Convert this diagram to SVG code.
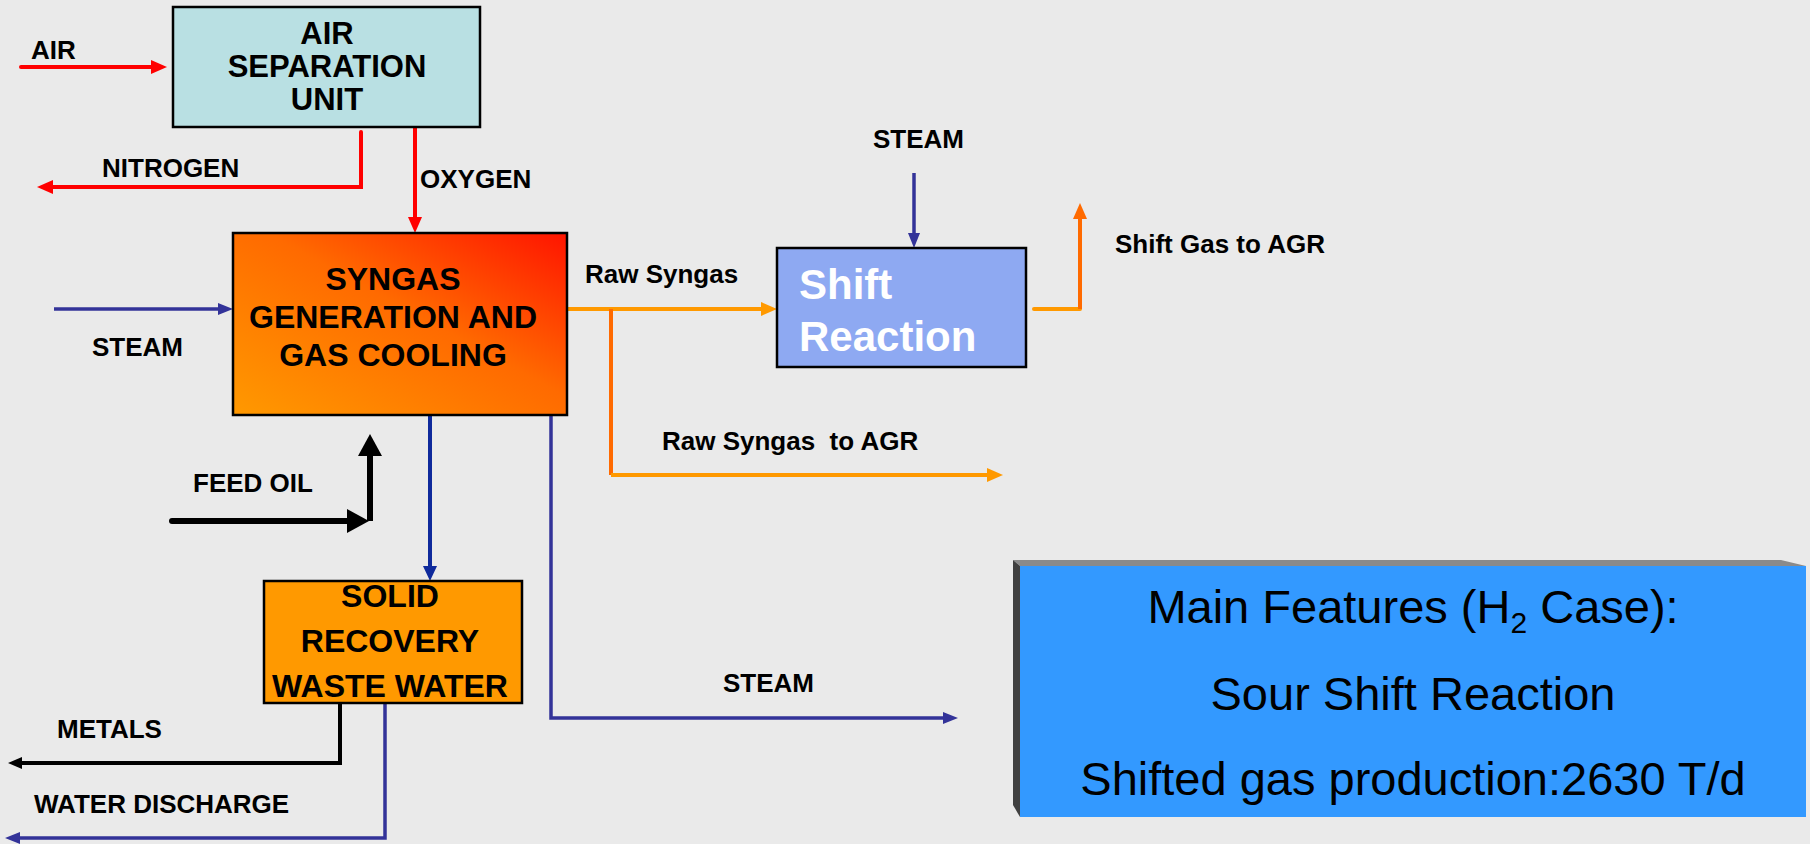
<svg xmlns="http://www.w3.org/2000/svg" width="1810" height="844" viewBox="0 0 1810 844">
<defs>
<style>
.lbl{font-family:"Liberation Sans",Arial,sans-serif;font-weight:bold;font-size:26px;fill:#000;white-space:pre}
.box{font-family:"Liberation Sans",Arial,sans-serif;font-weight:bold;font-size:32px;fill:#000;text-anchor:middle}
.asu{font-size:31px}
.feat{font-family:"Liberation Sans",Arial,sans-serif;font-size:47px;fill:#000;text-anchor:middle}
.red{fill:none;stroke:#ff0000;stroke-width:4}
.blue{fill:none;stroke:#333399;stroke-width:3.5}
.dblue{fill:none;stroke:#0f2a9c;stroke-width:4}
.org{fill:none;stroke:#ff9900;stroke-width:4}
.org2{fill:none;stroke:#ff6a00;stroke-width:4}
.blk{fill:none;stroke:#000;stroke-width:6}
.blks{fill:none;stroke:#000;stroke-width:4}
</style>
<linearGradient id="gSyn" x1="0" y1="1" x2="1" y2="0">
<stop offset="0" stop-color="#ff9900"/>
<stop offset="0.55" stop-color="#ff6a00"/>
<stop offset="1" stop-color="#ff1400"/>
</linearGradient>
<marker id="mRed" viewBox="0 0 16 14" refX="1" refY="7" markerWidth="16" markerHeight="14" markerUnits="userSpaceOnUse" orient="auto"><path d="M0,0 L16,7 L0,14 Z" fill="#ff0000"/></marker>
<marker id="mBlue" viewBox="0 0 15 12" refX="1" refY="6" markerWidth="15" markerHeight="12" markerUnits="userSpaceOnUse" orient="auto"><path d="M0,0 L15,6 L0,12 Z" fill="#333399"/></marker>
<marker id="mDBlue" viewBox="0 0 15 14" refX="1" refY="7" markerWidth="15" markerHeight="14" markerUnits="userSpaceOnUse" orient="auto"><path d="M0,0 L15,7 L0,14 Z" fill="#0f2a9c"/></marker>
<marker id="mOrg" viewBox="0 0 16 14" refX="1" refY="7" markerWidth="16" markerHeight="14" markerUnits="userSpaceOnUse" orient="auto"><path d="M0,0 L16,7 L0,14 Z" fill="#ff9900"/></marker>
<marker id="mOrg2" viewBox="0 0 16 14" refX="1" refY="7" markerWidth="16" markerHeight="14" markerUnits="userSpaceOnUse" orient="auto"><path d="M0,0 L16,7 L0,14 Z" fill="#ff6a00"/></marker>
<marker id="mBlk" viewBox="0 0 22 24" refX="1" refY="12" markerWidth="22" markerHeight="24" markerUnits="userSpaceOnUse" orient="auto"><path d="M0,0 L22,12 L0,24 Z" fill="#000"/></marker>
<marker id="mBlkS" viewBox="0 0 14 12" refX="1" refY="6" markerWidth="14" markerHeight="12" markerUnits="userSpaceOnUse" orient="auto"><path d="M0,0 L14,6 L0,12 Z" fill="#000"/></marker>
</defs>
<rect x="0" y="0" width="1810" height="844" fill="#eaeaea"/>

<g id="connectors">
<path class="red" d="M21,67 H152" marker-end="url(#mRed)" stroke-linecap="round"/>
<path class="red" d="M361,132 V187 H52" marker-end="url(#mRed)" stroke-linecap="round"/>
<path class="red" d="M415,127 V218" marker-end="url(#mRed)"/>
<path class="blue" d="M54,309 H219" marker-end="url(#mBlue)"/>
<path class="org" d="M567,309 H762" marker-end="url(#mOrg)"/>
<path class="org2" d="M611,309 V475"/>
<path class="org" d="M611,475 H988" marker-end="url(#mOrg)"/>
<path class="org" d="M1034,309 H1080" stroke-linecap="round"/>
<path class="org2" d="M1080,309 V218" marker-end="url(#mOrg2)"/>
<path class="blue" d="M914,173 V234" marker-end="url(#mBlue)"/>
<path class="dblue" d="M430,415 V567" marker-end="url(#mDBlue)"/>
<path class="blue" d="M551,415 V718 H944" marker-end="url(#mBlue)"/>
<path class="blk" d="M172,521 H348" marker-end="url(#mBlk)" stroke-linecap="round"/>
<path class="blk" d="M370,521 V455" marker-end="url(#mBlk)"/>
<path class="blks" d="M340,703 V763 H21" marker-end="url(#mBlkS)"/>
<path class="blue" d="M385,703 V838 H19" marker-end="url(#mBlue)"/>
</g>

<g id="labels">
<text class="lbl" x="31" y="59">AIR</text>
<text class="lbl" x="102" y="177">NITROGEN</text>
<text class="lbl" x="420" y="188">OXYGEN</text>
<text class="lbl" x="92" y="356">STEAM</text>
<text class="lbl" x="585" y="283">Raw Syngas</text>
<text class="lbl" x="873" y="148">STEAM</text>
<text class="lbl" x="1115" y="253">Shift Gas to AGR</text>
<text class="lbl" x="662" y="450">Raw Syngas  to AGR</text>
<text class="lbl" x="193" y="492">FEED OIL</text>
<text class="lbl" x="723" y="692">STEAM</text>
<text class="lbl" x="57" y="738">METALS</text>
<text class="lbl" x="34" y="813">WATER DISCHARGE</text>
</g>

<g id="asu">
<rect x="173" y="7" width="307" height="120" fill="#b9e0e3" stroke="#000" stroke-width="2.5"/>
<text class="box asu" x="327" y="44">AIR</text>
<text class="box asu" x="327" y="77">SEPARATION</text>
<text class="box asu" x="327" y="110">UNIT</text>
</g>

<g id="syngas">
<rect x="233" y="233" width="334" height="182" fill="url(#gSyn)" stroke="#000" stroke-width="2.5"/>
<text class="box" x="393" y="290">SYNGAS</text>
<text class="box" x="393" y="328">GENERATION AND</text>
<text class="box" x="393" y="366">GAS COOLING</text>
</g>

<g id="shift">
<rect x="777" y="248" width="249" height="119" fill="#8ea9f2" stroke="#000" stroke-width="2.5"/>
<text x="799" y="299" font-family="Liberation Sans, Arial, sans-serif" font-weight="bold" font-size="42" fill="#fff">Shift</text>
<text x="799" y="351" font-family="Liberation Sans, Arial, sans-serif" font-weight="bold" font-size="42" fill="#fff">Reaction</text>
</g>

<g id="solid">
<rect x="264" y="581" width="258" height="122" fill="#ff9900" stroke="#000" stroke-width="2.5"/>
<text class="box" x="390" y="607">SOLID</text>
<text class="box" x="390" y="652">RECOVERY</text>
<text class="box" x="390" y="697">WASTE WATER</text>
</g>

<g id="features">
<polygon points="1013,560 1781,560 1806,566 1020,566" fill="#8a8a8a"/>
<polygon points="1013,560 1020,566 1020,817 1013,805" fill="#404040"/>
<rect x="1020" y="566" width="786" height="251" fill="#3399ff"/>
<text class="feat" x="1413" y="623">Main Features (H<tspan font-size="30" dy="10">2</tspan><tspan dy="-10"> Case):</tspan></text>
<text class="feat" x="1413" y="710">Sour Shift Reaction</text>
<text class="feat" x="1413" y="795">Shifted gas production:2630 T/d</text>
</g>
</svg>
